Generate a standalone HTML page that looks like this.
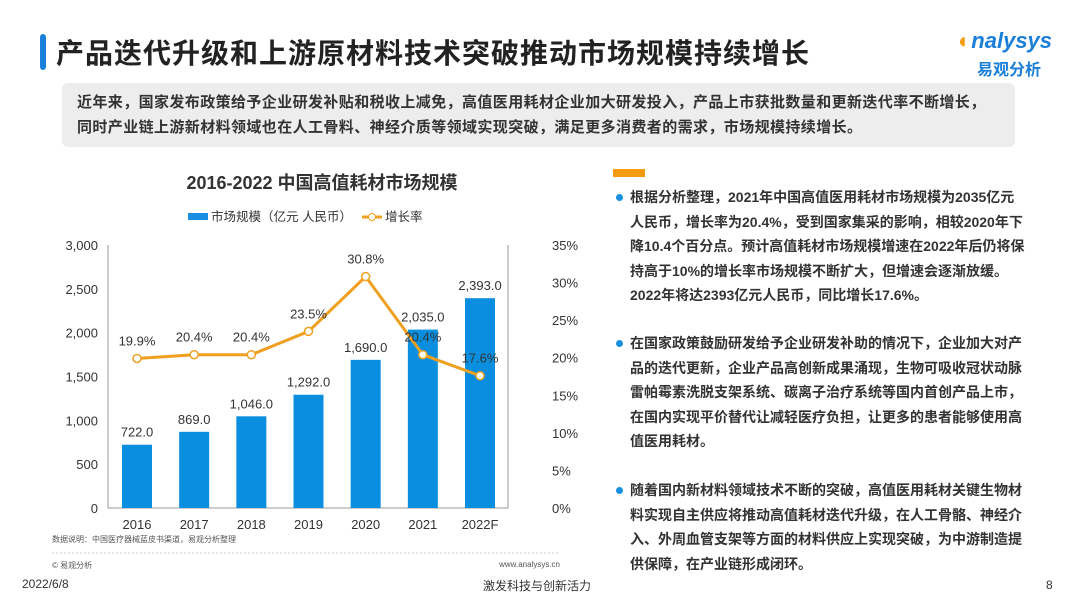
<!DOCTYPE html>
<html><head><meta charset="utf-8">
<style>
body{margin:0;width:1080px;height:608px;background:#fff;position:relative;overflow:hidden;font-family:"Liberation Sans","Noto Sans CJK SC",sans-serif;color:#333}
.abs{position:absolute}
.p{position:absolute;left:630px;width:395px;font-size:14px;line-height:24.5px;color:#333;font-weight:bold}
.p:before{content:"";position:absolute;left:-14px;top:9px;width:7px;height:7px;border-radius:50%;background:#1a8ee0}
</style></head><body>
<div class="abs" style="left:40px;top:34px;width:6px;height:36px;background:#1a7fd8;border-radius:3px"></div>
<div class="abs" style="left:56px;top:32px;font-size:28px;font-weight:bold;color:#222;letter-spacing:1px">产品迭代升级和上游原材料技术突破推动市场规模持续增长</div>
<div class="abs" style="left:958px;top:28px;font-size:22px;color:#1a7fd8;font-style:italic;font-weight:bold"><span style="color:#f39c12">◐</span>nalysys</div>
<div class="abs" style="left:977px;top:56px;font-size:16px;color:#1a7fd8;font-weight:bold">易观分析</div>
<div class="abs" style="left:62px;top:83px;width:953px;height:64px;background:#ededed;border-radius:6px"></div>
<div class="abs" style="left:77px;top:90px;width:912px;font-size:15px;line-height:25px;font-weight:bold;color:#333;letter-spacing:0.4px">近年来，国家发布政策给予企业研发补贴和税收上减免，高值医用耗材企业加大研发投入，产品上市获批数量和更新迭代率不断增长，同时产业链上游新材料领域也在人工骨料、神经介质等领域实现突破，满足更多消费者的需求，市场规模持续增长。</div>

<svg class="abs" style="left:0;top:0" width="600" height="608">
<text x="322" y="189" text-anchor="middle" font-size="18" font-weight="bold" fill="#333">2016-2022 中国高值耗材市场规模</text>
<g>
<rect x="188" y="213" width="20" height="7" fill="#1a8ee0"/>
<text x="211" y="221" font-size="12.5" fill="#333">市场规模（亿元 人民币）</text>
<line x1="362" y1="217" x2="382" y2="217" stroke="#f0a020" stroke-width="3"/>
<circle cx="372" cy="217" r="3.5" fill="#fff" stroke="#f0a020"/>
<text x="385" y="221" font-size="12.5" fill="#333">增长率</text>
</g>
<g id="axes"></g><g id="bars"></g><g id="line"></g>
<text x="52" y="542" font-size="8" fill="#555">数据说明：中国医疗器械蓝皮书渠道，易观分析整理</text>
<line x1="52" y1="553" x2="560" y2="553" stroke="#ccc" stroke-dasharray="2,2"/>
<text x="52" y="568" font-size="8" fill="#555">© 易观分析</text>
<text x="560" y="567" font-size="8" fill="#555" text-anchor="end">www.analysys.cn</text>
</svg>

<div class="abs" style="left:613px;top:169px;width:32px;height:8px;background:#f39c12"></div>
<div class="p" style="top:185px">根据分析整理，2021年中国高值医用耗材市场规模为2035亿元人民币，增长率为20.4%，受到国家集采的影响，相较2020年下降10.4个百分点。预计高值耗材市场规模增速在2022年后仍将保持高于10%的增长率市场规模不断扩大，但增速会逐渐放缓。2022年将达2393亿元人民币，同比增长17.6%。</div>
<div class="p" style="top:331px">在国家政策鼓励研发给予企业研发补助的情况下，企业加大对产品的迭代更新，企业产品高创新成果涌现，生物可吸收冠状动脉雷帕霉素洗脱支架系统、碳离子治疗系统等国内首创产品上市，在国内实现平价替代让减轻医疗负担，让更多的患者能够使用高值医用耗材。</div>
<div class="p" style="top:478px">随着国内新材料领域技术不断的突破，高值医用耗材关键生物材料实现自主供应将推动高值耗材迭代升级，在人工骨骼、神经介入、外周血管支架等方面的材料供应上实现突破，为中游制造提供保障，在产业链形成闭环。</div>

<div class="abs" style="left:22px;top:577px;font-size:12px;color:#333">2022/6/8</div>
<div class="abs" style="left:483px;top:577px;font-size:12px;color:#333">激发科技与创新活力</div>
<div class="abs" style="left:1046px;top:578px;font-size:12px;color:#333">8</div>

<script>
const categories=["2016","2017","2018","2019","2020","2021","2022F"];
const marketSize=[722.0,869.0,1046.0,1292.0,1690.0,2035.0,2393.0];
const growthRate=[19.9,20.4,20.4,23.5,30.8,20.4,17.6];
const leftTicks=[0,500,1000,1500,2000,2500,3000];
const rightTicks=[0,5,10,15,20,25,30,35];
const NS="http://www.w3.org/2000/svg";
const x0=108,x1=508,yb=508,yt=245;
const yL=v=>yb-(v/3000)*(yb-yt);
const yR=v=>yb-(v/35)*(yb-yt);
const step=(480-137)/6;
const xC=i=>137+i*step;
function mk(t,a,p){const e=document.createElementNS(NS,t);for(const k in a)e.setAttribute(k,a[k]);p.appendChild(e);return e;}
const ax=document.getElementById('axes'),bg=document.getElementById('bars'),lg=document.getElementById('line');
let e=mk('line',{x1:x0,y1:yt,x2:x0,y2:yb,stroke:'#999'},ax);


e=mk('line',{x1:x1,y1:yt,x2:x1,y2:yb,stroke:'#999'},ax);


e=mk('line',{x1:x0,y1:yb,x2:x1,y2:yb,stroke:'#999'},ax);


leftTicks.forEach(v=>{const t=mk('text',{x:98,y:yL(v)+5,'text-anchor':'end','font-size':13,fill:'#333'},ax);t.textContent=v.toLocaleString('en-US');

});
rightTicks.forEach(v=>{const t=mk('text',{x:552,y:yR(v)+5,'font-size':13,fill:'#333'},ax);t.textContent=v+'%';

});
categories.forEach((c,i)=>{const t=mk('text',{x:xC(i),y:529,'text-anchor':'middle','font-size':13,fill:'#333'},ax);t.textContent=c;

});
marketSize.forEach((v,i)=>{const r=mk('rect',{x:xC(i)-15,y:yL(v),width:30,height:yb-yL(v),fill:'#0a8fe0'},bg);


const t=mk('text',{x:xC(i),y:yL(v)-8,'text-anchor':'middle','font-size':13,fill:'#333'},bg);t.textContent=v.toLocaleString('en-US',{minimumFractionDigits:1});

});
const pts=growthRate.map((v,i)=>xC(i)+','+yR(v)).join(' ');
e=mk('polyline',{points:pts,fill:'none',stroke:'#f0a020','stroke-width':3},lg);


growthRate.forEach((v,i)=>{const c=mk('circle',{cx:xC(i),cy:yR(v),r:4,fill:'#fff',stroke:'#f0a020','stroke-width':1.5},lg);


const t=mk('text',{x:xC(i),y:yR(v)-13,'text-anchor':'middle','font-size':13,fill:'#333'},lg);t.textContent=v.toFixed(1)+'%';

});
</script>
</body></html>
